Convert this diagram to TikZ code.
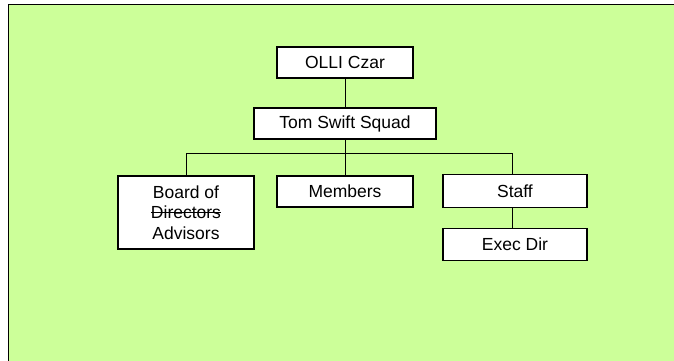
\documentclass[tikz,border=0pt]{standalone}
\usepackage{fontspec}
\setmainfont{Liberation Sans}
\definecolor{bggreen}{RGB}{204,255,153}
\newcommand\mystrk[1]{\setbox0\hbox{#1}\rlap{\rule[0.34em]{\wd0}{1.1pt}}\box0}
\tikzset{
  orgbox/.style={draw=black, line width=1.2pt, fill=white, inner sep=0pt,
    font=\fontsize{17.5}{20.5}\selectfont, align=center},
  link/.style={draw=black, line width=1pt}
}
\begin{document}
\begin{tikzpicture}[x=1pt,y=-1pt]
\useasboundingbox (0,0) rectangle (674,361);
\fill[white] (0,0) rectangle (674,361);
\fill[bggreen] (8,4) rectangle (674,361);
\draw[black, line width=1.5pt] (8.5,361) -- (8.5,4.5) -- (674,4.5);
\node[orgbox, minimum width=136pt, minimum height=31pt] (olli) at (345,62.5) {OLLI Czar};
\node[orgbox, minimum width=182pt, minimum height=31pt] (tom) at (345,123.5) {Tom Swift Squad};
\node[orgbox, minimum width=136pt, minimum height=73pt] (board) at (186,212.5) {Board of\\\mystrk{Directors}\\Advisors};
\node[orgbox, minimum width=136pt, minimum height=31pt] (members) at (345,191.5) {Members};
\node[orgbox, minimum width=144pt, minimum height=33pt] (staff) at (515,191) {Staff};
\node[orgbox, minimum width=144pt, minimum height=32pt] (exec) at (515,244.5) {Exec Dir};
\coordinate (barl) at (186.5,153.5);
\coordinate (barr) at (512,153.5);
\coordinate (barm) at (345,153.5);
\draw[link] (olli) -- (tom);
\draw[link] (tom) -- (barm);
\draw[link] (board.north -| barl) -- (barl) -- (barr) -- (barr |- staff.north);
\draw[link] (barm) -- (members);
\draw[link] (staff.south -| barr) -- (exec.north -| barr);
\end{tikzpicture}
\end{document}
